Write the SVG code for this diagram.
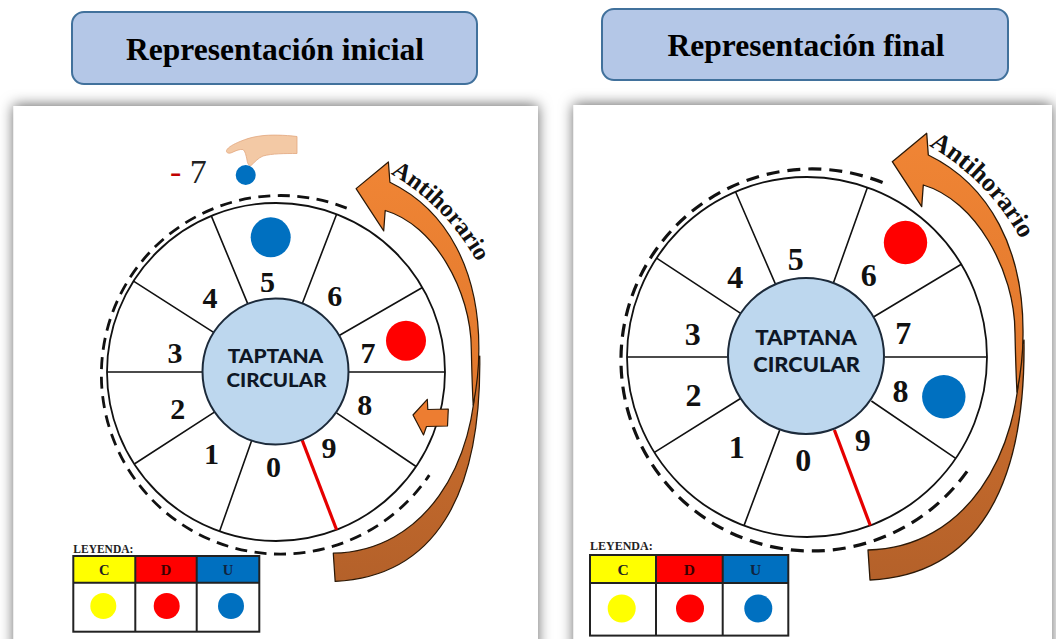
<svg xmlns="http://www.w3.org/2000/svg" width="1056" height="639" viewBox="0 0 1056 639">
<defs>
<style>
.title-box{fill:#b4c7e7;stroke:#41719c;stroke-width:2}
.title{font-family:"Liberation Serif","Times New Roman",serif;font-weight:bold;font-size:31.5px;fill:#000;text-anchor:middle}
.panel{fill:#fff;filter:url(#shadow)}
.rim{fill:#fff;stroke:#111;stroke-width:1.8}
.spoke{stroke:#111;stroke-width:1.6;fill:none}
.pointer{stroke:#e60000;stroke-width:3.2;fill:none}
.hub{fill:#bdd7ee;stroke:#1c2a3a;stroke-width:2}
.hubtxt{font-family:Lato,"Open Sans",sans-serif;font-weight:900;fill:#0e1726;text-anchor:middle}
.num{font-family:"Liberation Serif","Times New Roman",serif;font-weight:bold;fill:#111;text-anchor:middle}
.dash{fill:none;stroke:#111;stroke-width:3;stroke-dasharray:13 8}
.arc-text{font-family:"Liberation Serif","Times New Roman",serif;font-weight:bold;fill:#111}
.lg-title{font-family:"Liberation Serif","Times New Roman",serif;font-weight:bold;fill:#222}
.lg-head{font-family:"Liberation Serif","Times New Roman",serif;font-weight:bold;text-anchor:middle}
.lg-border{fill:none;stroke:#222;stroke-width:2}
.arrow-out{stroke:#2b1806;stroke-width:1.3;stroke-linejoin:round}
.yel{fill:#ffff00}.red{fill:#ff0000}.blu{fill:#0070c0}
</style>
<filter id="shadow" x="-8%" y="-8%" width="116%" height="116%">
<feDropShadow dx="0" dy="-1" stdDeviation="7" flood-color="#000" flood-opacity="0.6"/>
</filter>
<linearGradient id="gFront" x1="0" y1="0" x2="0" y2="1"><stop offset="0" stop-color="#f08535"/><stop offset="1" stop-color="#e0772c"/></linearGradient>
<linearGradient id="gBack" x1="0" y1="0" x2="0" y2="1"><stop offset="0" stop-color="#cf6f2c"/><stop offset="1" stop-color="#b4612a"/></linearGradient>
<g id="curvedArrow">
<path class="arrow-out" fill="url(#gBack)" d="M 1024,340 C 1026,490 975,575 870,580 L 868,550 C 965,548 1021,455 1020,350 Z"/>
<path class="arrow-out" fill="url(#gFront)" d="M 892.3,161.7 L 926.7,133.3 L 928.3,155 C 990,185 1024,250 1023,335 C 1023,355 1021,372 1017,392 C 1016,375 1015.5,355 1015,333 C 1015,270 975,200 923.3,185 L 921.7,206.7 Z"/>
</g>
<path id="arcL" d="M 390.5,173.7 A 229 229 0 0 1 491.2,293.7" fill="none"/>
<path id="arcR" d="M 929,145.7 A 244 244 0 0 1 1036.3,273.6" fill="none"/>
</defs>

<rect x="0" y="0" width="1056" height="639" fill="#fff"/>

<g id="panel-inicial">
<rect class="panel" x="13.5" y="106" width="524.5" height="560"/>
<g id="title-inicial">
<rect class="title-box" x="72" y="12" width="405" height="72" rx="12"/>
<text class="title" x="275" y="59.5">Representación inicial</text>
</g>
<g id="wheel-inicial">
<path class="dash" style="stroke-width:2.8;stroke-dasharray:12 7.5" d="M 346.7,208.1 A 179.3 179.3 0 1 0 429.3,475.1"/>
<circle class="rim" cx="276" cy="372" r="169"/>
<path class="spoke" d="M349,372 L445,372 M203,372 L107,372 M339.2,335.5 L422.4,287.5 M302.2,303.8 L336.6,214.2 M248.1,304.6 L211.3,215.9 M214.4,332.8 L133.5,281.2 M214.8,411.8 L134.3,464 M251.6,440.8 L219.6,531.3 M336.5,412.8 L416.1,466.5"/>
<path class="pointer" d="M302.2,440.2 L336.6,529.8"/>
<circle class="hub" cx="275.5" cy="371.5" r="73"/>
<text class="hubtxt" font-size="19.5" x="275.5" y="362.7" textLength="95.6" lengthAdjust="spacingAndGlyphs">TAPTANA</text>
<text class="hubtxt" font-size="19.5" x="276.5" y="387.3" textLength="100" lengthAdjust="spacingAndGlyphs">CIRCULAR</text>
<g class="num" font-size="30">
<text x="267.5" y="291.8">5</text>
<text x="210" y="308.1">4</text>
<text x="334.7" y="306.1">6</text>
<text x="175" y="363.1">3</text>
<text x="368" y="363.1">7</text>
<text x="177.7" y="418.6">2</text>
<text x="364.7" y="415.1">8</text>
<text x="211.5" y="463.6">1</text>
<text x="329" y="458.4">9</text>
<text x="273.5" y="477.1">0</text>
</g>
<circle class="blu" cx="270.7" cy="237.3" r="20"/>
<circle class="red" cx="406" cy="340.7" r="20"/>
</g>
<g id="hand-inicial">
<text x="170" y="183" font-family="'Liberation Serif','Times New Roman',serif" font-size="34" fill="#222"><tspan fill="#c00000">-</tspan> 7</text>
<circle class="blu" cx="245.7" cy="175" r="10"/>
<path fill="#f3c9a5" stroke="#e2a77f" stroke-width="0.8" d="M 297,136.5 C 285,135 270,134.5 260,136 C 252,137 246,139 240,141.5 C 234,144 228,147 226.5,150.5 C 226,153 229,154 232,152.5 C 236,150.5 240,149 243,149.5 C 245,151 246,155 247,160 C 247.5,164 249,166 251,165.5 C 254,163 258,158 263,156 C 272,153.5 285,153.5 297,153.5 Z"/>
</g>
<g id="arrow-inicial">
<use href="#curvedArrow" transform="translate(276,372) scale(0.939) translate(-807,-357)"/>
<text class="arc-text" font-size="24.5"><textPath href="#arcL">Antihorario</textPath></text>
<polygon fill="#ed7d31" stroke="#2b1806" stroke-width="1.2" stroke-linejoin="round" points="413,415 427.3,399.3 427.8,409.5 448.3,409 447.5,426 426.5,426.5 423.5,435"/>
</g>
<g id="legend-inicial">
<text class="lg-title" font-size="11.5" x="73.3" y="552.7">LEYENDA:</text>
<rect class="yel" x="73.3" y="556" width="62" height="26.7"/>
<rect class="red" x="135.3" y="556" width="61.4" height="26.7"/>
<rect class="blu" x="196.7" y="556" width="62.6" height="26.7"/>
<rect class="lg-border" x="73.3" y="556" width="186" height="75.7"/>
<path class="lg-border" d="M73.3,582.7 H259.3 M135.3,556 V631.7 M196.7,556 V631.7"/>
<text class="lg-head" font-size="14.5" x="104.3" y="574.5" fill="#222">C</text>
<text class="lg-head" font-size="14.5" x="166" y="574.5" fill="#3a0000">D</text>
<text class="lg-head" font-size="14.5" x="228" y="574.5" fill="#10243f">U</text>
<circle class="yel" cx="103.3" cy="606" r="13"/>
<circle class="red" cx="166.7" cy="606" r="13"/>
<circle class="blu" cx="231" cy="606" r="13"/>
</g>
</g>

<g id="panel-final">
<rect class="panel" x="573.5" y="105" width="478.5" height="560"/>
<g id="title-final">
<rect class="title-box" x="602" y="9" width="406" height="71" rx="12"/>
<text class="title" x="806" y="55.5">Representación final</text>
</g>
<g id="wheel-final">
<path class="dash" style="stroke-width:3.2" d="M 882.6,182.5 A 191 191 0 1 0 970.3,466.8"/>
<circle class="rim" cx="807" cy="357" r="180"/>
<path class="spoke" d="M885,357 L987,357 M729,357 L627,357 M873.9,316.8 L961.3,264.3 M833.2,283.5 L867.4,187.4 M776,285.4 L735.5,191.8 M741.8,314.2 L656.6,258.2 M740.9,398.3 L654.4,452.4 M779.7,430.1 L744,525.6 M871.4,401 L955.7,458.4"/>
<path class="pointer" d="M834.4,430 L870.3,525.5"/>
<circle class="hub" cx="806" cy="356" r="78"/>
<text class="hubtxt" font-size="20" x="806" y="345" textLength="101.7" lengthAdjust="spacingAndGlyphs">TAPTANA</text>
<text class="hubtxt" font-size="20" x="806.6" y="372.3" textLength="106.7" lengthAdjust="spacingAndGlyphs">CIRCULAR</text>
<g class="num" font-size="32">
<text x="795.8" y="270">5</text>
<text x="735.3" y="288.3">4</text>
<text x="868.7" y="285.8">6</text>
<text x="692.7" y="345">3</text>
<text x="903.3" y="344.1">7</text>
<text x="693.5" y="405.8">2</text>
<text x="900.5" y="401.6">8</text>
<text x="736.7" y="457.5">1</text>
<text x="862.7" y="450.5">9</text>
<text x="803.3" y="470.8">0</text>
</g>
<circle class="red" cx="905.5" cy="242.5" r="21.7"/>
<circle class="blu" cx="943.8" cy="396.7" r="21.7"/>
</g>
<g id="arrow-final">
<use href="#curvedArrow"/>
<text class="arc-text" font-size="26"><textPath href="#arcR">Antihorario</textPath></text>
</g>
<g id="legend-final">
<text class="lg-title" font-size="12" x="590" y="549.6">LEYENDA:</text>
<rect class="yel" x="590" y="555" width="66" height="28"/>
<rect class="red" x="656" y="555" width="66.7" height="28"/>
<rect class="blu" x="722.7" y="555" width="65.6" height="28"/>
<rect class="lg-border" x="590" y="555" width="198.3" height="80.6"/>
<path class="lg-border" d="M590,583 H788.3 M656,555 V635.6 M722.7,555 V635.6"/>
<text class="lg-head" font-size="15.5" x="623" y="574.5" fill="#222">C</text>
<text class="lg-head" font-size="15.5" x="689.3" y="574.5" fill="#3a0000">D</text>
<text class="lg-head" font-size="15.5" x="755.5" y="574.5" fill="#10243f">U</text>
<circle class="yel" cx="621.7" cy="608.5" r="14"/>
<circle class="red" cx="690" cy="608.5" r="14"/>
<circle class="blu" cx="758.3" cy="608.5" r="14"/>
</g>
</g>
</svg>
